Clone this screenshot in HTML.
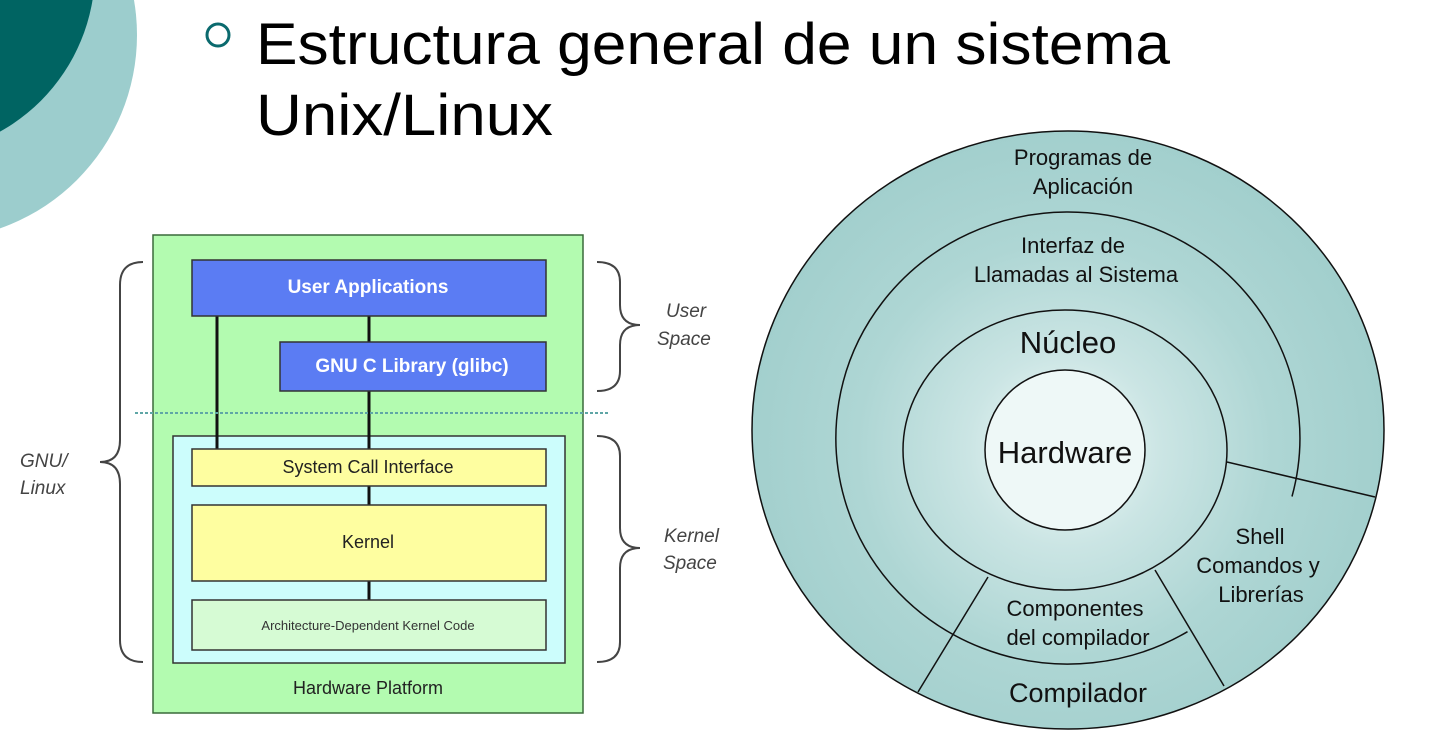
<!DOCTYPE html>
<html><head><meta charset="utf-8"><style>
html,body{margin:0;padding:0;background:#fff;}
svg{display:block;}
text{font-family:"Liberation Sans",sans-serif;}
</style></head><body>
<svg width="1433" height="741" viewBox="0 0 1433 741" xmlns="http://www.w3.org/2000/svg">
<defs>
<radialGradient id="rg" cx="1065" cy="450" r="320" gradientUnits="userSpaceOnUse">
<stop offset="0" stop-color="#f2fbfa"/>
<stop offset="0.3" stop-color="#cbe5e4"/>
<stop offset="0.65" stop-color="#aed6d4"/>
<stop offset="1" stop-color="#a2cfcd"/>
</radialGradient>
</defs>
<circle cx="-68" cy="35" r="205" fill="#9ccdcd"/>
<circle cx="-90" cy="-30" r="185" fill="#006462"/>
<circle cx="218" cy="35" r="11" fill="none" stroke="#0b6a6e" stroke-width="3"/>
<text x="256" y="64" font-size="58" textLength="914" lengthAdjust="spacingAndGlyphs" fill="#000">Estructura general de un sistema</text>
<text x="256" y="135" font-size="58" textLength="297" lengthAdjust="spacingAndGlyphs" fill="#000">Unix/Linux</text>

<rect x="153" y="235" width="430" height="478" fill="#b3fbb0" stroke="#3a6a3a" stroke-width="1.5"/>
<rect x="173" y="436" width="392" height="227" fill="#ccfdfc" stroke="#333" stroke-width="1.5"/>
<g stroke="#111" stroke-width="3">
<line x1="217" y1="316" x2="217" y2="449"/>
<line x1="369" y1="316" x2="369" y2="342"/>
<line x1="369" y1="391" x2="369" y2="449"/>
<line x1="369" y1="486" x2="369" y2="505"/>
<line x1="369" y1="581" x2="369" y2="600"/>
</g>
<line x1="135" y1="413" x2="610" y2="413" stroke="#5fa6a6" stroke-width="2" stroke-dasharray="3,2"/>
<rect x="192" y="260" width="354" height="56" fill="#5b7cf3" stroke="#333" stroke-width="1.5"/>
<text x="368" y="293" font-size="19" font-weight="bold" fill="#fff" text-anchor="middle">User Applications</text>
<rect x="280" y="342" width="266" height="49" fill="#5b7cf3" stroke="#333" stroke-width="1.5"/>
<text x="412" y="372" font-size="19" font-weight="bold" fill="#fff" text-anchor="middle">GNU C Library (glibc)</text>
<rect x="192" y="449" width="354" height="37" fill="#fefea0" stroke="#333" stroke-width="1.5"/>
<text x="368" y="473" font-size="18" fill="#222" text-anchor="middle">System Call Interface</text>
<rect x="192" y="505" width="354" height="76" fill="#fefea0" stroke="#333" stroke-width="1.5"/>
<text x="368" y="548" font-size="18" fill="#222" text-anchor="middle">Kernel</text>
<rect x="192" y="600" width="354" height="50" fill="#d6fbd4" stroke="#333" stroke-width="1.5"/>
<text x="368" y="630" font-size="13" fill="#333" text-anchor="middle">Architecture-Dependent Kernel Code</text>
<text x="368" y="694" font-size="18" fill="#222" text-anchor="middle">Hardware Platform</text>
<g fill="none" stroke="#444" stroke-width="2">
<path d="M143,262 Q120,262 120,285 L120,440 Q120,462 100,462 Q120,462 120,484 L120,640 Q120,662 143,662"/>
<path d="M597,262 Q620,262 620,282 L620,305 Q620,325 640,325 Q620,325 620,345 L620,371 Q620,391 597,391"/>
<path d="M597,436 Q620,436 620,456 L620,528 Q620,548 640,548 Q620,548 620,568 L620,642 Q620,662 597,662"/>
</g>
<g font-style="italic" font-size="19" fill="#444">
<text x="666" y="317">User</text><text x="657" y="345">Space</text>
<text x="20" y="467">GNU/</text><text x="20" y="494">Linux</text>
<text x="664" y="542">Kernel</text><text x="663" y="569">Space</text>
</g>

<ellipse cx="1068" cy="430" rx="316" ry="299" fill="url(#rg)" stroke="#111" stroke-width="1.5"/>
<path d="M1292,496.5 A232,226 0 1 0 1187.5,631.7" fill="none" stroke="#111" stroke-width="1.5"/>
<ellipse cx="1065" cy="450" rx="162" ry="140" fill="none" stroke="#111" stroke-width="1.5"/>
<circle cx="1065" cy="450" r="80" fill="#eef8f7" stroke="#111" stroke-width="1.5"/>
<g stroke="#111" stroke-width="1.5">
<line x1="1227" y1="462" x2="1375" y2="497"/>
<line x1="988" y1="577" x2="918" y2="692"/>
<line x1="1155" y1="570" x2="1224" y2="686"/>
</g>
<g font-size="22" fill="#111" text-anchor="middle">
<text x="1083" y="165">Programas de</text>
<text x="1083" y="194">Aplicación</text>
<text x="1073" y="253">Interfaz de</text>
<text x="1076" y="282">Llamadas al Sistema</text>
<text x="1260" y="544">Shell</text>
<text x="1258" y="573">Comandos y</text>
<text x="1261" y="602">Librerías</text>
<text x="1075" y="616">Componentes</text>
<text x="1078" y="645">del compilador</text>
<text x="1078" y="702" font-size="27">Compilador</text>
<text x="1068" y="353" font-size="31">Núcleo</text>
<text x="1065" y="463" font-size="31">Hardware</text>
</g>
</svg>
</body></html>
